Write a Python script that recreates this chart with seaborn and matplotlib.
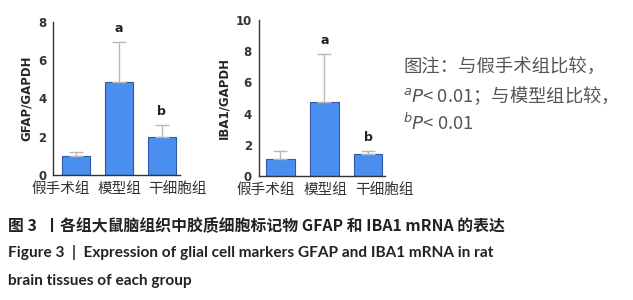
import numpy as np
import pandas as pd
import matplotlib
matplotlib.use("Agg")
import matplotlib.pyplot as plt
import matplotlib.transforms as mtransforms
import seaborn as sns

groups = ["假手术组", "模型组", "干细胞组"]
gfap_mean = [1.0, 4.85, 2.0]
gfap_sd = [0.2, 2.1, 0.6]
iba1_mean = [1.08, 4.75, 1.4]
iba1_sd = [0.5, 3.1, 0.2]
sig_labels = ["", "a", "b"]

sns.set_style("white")
plt.rcParams['font.family'] = ['Noto Sans CJK SC', 'DejaVu Sans']
plt.rcParams['mathtext.fontset'] = 'dejavusans'

BAR = '#4a8ff0'
EDGE = '#2a5aa8'
ERR = '#b8b8b8'

fig = plt.figure(figsize=(6.33, 3.0), dpi=100)
ax1 = fig.add_axes([0.084, 0.417, 0.200, 0.510])
ax2 = fig.add_axes([0.409, 0.413, 0.199, 0.520])

# the crowded category labels sit a little apart from the bar centres
label_shift_px = [-15, 1, 16]


def draw_panel(ax, means, sds, ylabel, ymax, ystep, xlim):
    df = pd.DataFrame({'group': groups, 'value': means})
    sns.barplot(data=df, x='group', y='value', ax=ax, color=BAR,
                edgecolor=EDGE, linewidth=0.8, width=0.65, errorbar=None,
                saturation=1)
    x = np.arange(len(groups))
    ax.errorbar(x, means, yerr=[np.zeros(len(sds)), sds], fmt='none',
                ecolor=ERR, elinewidth=1.0, capsize=5, capthick=1.0, zorder=1)
    for xi, m, s, lab in zip(x, means, sds, sig_labels):
        if lab:
            ax.text(xi, m + s + ymax * 0.045, lab, ha='center', va='bottom',
                    fontsize=9, fontweight='bold', color='#222222',
                    family='DejaVu Sans')
    ax.set_ylim(0, ymax)
    ax.set_xlim(*xlim)
    ax.set_yticks(np.arange(0, ymax + 0.1, ystep))
    ax.set_xlabel('')
    ax.set_ylabel(ylabel, fontsize=8.5, fontweight='bold', family='DejaVu Sans',
                  labelpad=4)
    for side in ['top', 'right']:
        ax.spines[side].set_visible(False)
    for side in ['left', 'bottom']:
        ax.spines[side].set_color('#333333')
        ax.spines[side].set_linewidth(1.0)
    ax.tick_params(axis='y', length=3, width=0.8, pad=2, labelsize=8.5,
                   colors='#333333')
    ax.tick_params(axis='x', length=3, width=0.8, pad=2, labelsize=10.5)
    for t in ax.get_yticklabels():
        t.set_fontweight('bold')
        t.set_family('DejaVu Sans')
    for t, dx in zip(ax.get_xticklabels(), label_shift_px):
        t.set_color('#333333')
        off = mtransforms.ScaledTranslation(dx / 100, 0, fig.dpi_scale_trans)
        t.set_transform(t.get_transform() + off)


draw_panel(ax1, gfap_mean, gfap_sd, 'GFAP/GAPDH', 8, 2, (-0.53, 2.42))
draw_panel(ax2, iba1_mean, iba1_sd, 'IBA1/GAPDH', 10, 2, (-0.49, 2.38))

note_color = '#555555'
fig.text(403 / 633, 1 - 68 / 300, '图注：与假手术组比较，', fontsize=13.2,
         color=note_color, va='center', ha='left')
fig.text(403 / 633, 1 - 96 / 300, r'$^{a}$$\it{P}$< 0.01；与模型组比较，',
         fontsize=13.2, color=note_color, va='center', ha='left')
fig.text(403 / 633, 1 - 123 / 300, r'$^{b}$$\it{P}$< 0.01',
         fontsize=13.2, color=note_color, va='center', ha='left')

cap_color = '#222222'
fig.text(8 / 633, 1 - 225 / 300,
         '图 3  丨各组大鼠脑组织中胶质细胞标记物 GFAP 和 IBA1 mRNA 的表达',
         fontsize=11.4, fontweight='bold', color=cap_color, va='center',
         ha='left')
fig.text(8 / 633, 1 - 253 / 300,
         'Figure 3  |  Expression of glial cell markers GFAP and IBA1 mRNA in rat',
         fontsize=11.1, fontweight='bold', color=cap_color, va='center',
         ha='left', family=['Lato', 'DejaVu Sans'])
fig.text(8 / 633, 1 - 281 / 300, 'brain tissues of each group',
         fontsize=11.1, fontweight='bold', color=cap_color, va='center',
         ha='left', family=['Lato', 'DejaVu Sans'])

fig.savefig('out.png', dpi=100)
